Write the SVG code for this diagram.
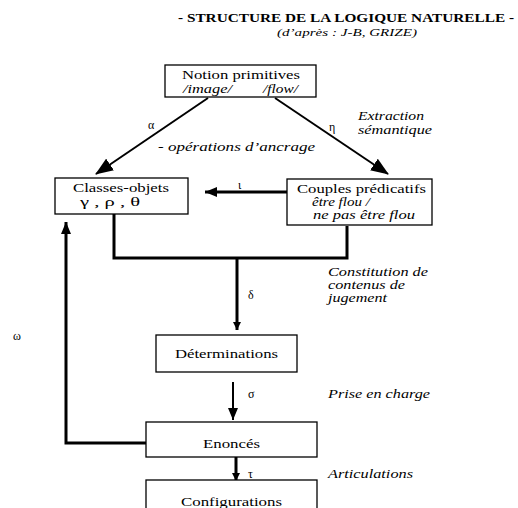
<svg xmlns="http://www.w3.org/2000/svg" width="518" height="508" viewBox="0 0 518 508">
<style>
.box{fill:#fff;stroke:#000;stroke-width:1.3}
.c{fill:none;stroke:#000;stroke-linecap:butt}
</style>
<defs>
<marker id="big" markerUnits="userSpaceOnUse" markerWidth="18" markerHeight="14" refX="17" refY="7" orient="auto"><path d="M0,0 L18,7 L0,14 Z" fill="#000"/></marker>
<marker id="mid" markerUnits="userSpaceOnUse" markerWidth="12" markerHeight="10" refX="12" refY="5" orient="auto"><path d="M0,0 L12,5 L0,10 Z" fill="#000"/></marker>
<marker id="sm" markerUnits="userSpaceOnUse" markerWidth="8" markerHeight="8" refX="8" refY="4" orient="auto"><path d="M0,0 L8,4 L0,8 Z" fill="#000"/></marker>
</defs>
<rect width="518" height="508" fill="#fff"/>
<g id="title" fill="#000">
<text x="178" y="22" font-family="Liberation Serif, DejaVu Serif, serif" font-weight="bold" font-size="11.5" textLength="336" lengthAdjust="spacingAndGlyphs">- STRUCTURE DE LA LOGIQUE NATURELLE -</text>
<text x="277" y="36" font-family="Liberation Serif, DejaVu Serif, serif" font-style="italic" font-size="11" textLength="140" lengthAdjust="spacingAndGlyphs">(d’après : J-B, GRIZE)</text>
</g>
<g id="connectors">
<line class="c" x1="208" y1="98" x2="96" y2="174" stroke-width="2" marker-end="url(#big)"/>
<line class="c" x1="275" y1="98" x2="388" y2="174" stroke-width="2" marker-end="url(#big)"/>
<line class="c" x1="287" y1="192" x2="205" y2="192" stroke-width="3" marker-end="url(#mid)"/>
<polyline class="c" points="114,214 114,258 347,258 347,226" stroke-width="3"/>
<line class="c" x1="237" y1="258" x2="237" y2="330" stroke-width="3" marker-end="url(#sm)"/>
<line class="c" x1="233" y1="382" x2="233" y2="420" stroke-width="2" marker-end="url(#mid)"/>
<line class="c" x1="236" y1="457" x2="236" y2="481" stroke-width="3" marker-end="url(#sm)"/>
<polyline class="c" points="146,443 66,443 66,222" stroke-width="3" marker-end="url(#mid)"/>
</g>
<g id="labels" fill="#000">
<text x="148" y="129" font-family="Liberation Serif, DejaVu Serif, serif" font-size="12">α</text>
<text x="329" y="131" font-family="Liberation Serif, DejaVu Serif, serif" font-size="12">η</text>
<text x="238" y="189" font-family="Liberation Serif, DejaVu Serif, serif" font-size="12">ι</text>
<text x="248" y="299" font-family="Liberation Serif, DejaVu Serif, serif" font-size="12">δ</text>
<text x="248" y="398" font-family="Liberation Serif, DejaVu Serif, serif" font-size="12">σ</text>
<text x="248" y="478" font-family="Liberation Serif, DejaVu Serif, serif" font-size="12">τ</text>
<text x="13" y="340" font-family="Liberation Serif, DejaVu Serif, serif" font-size="12">ω</text>
<text x="358" y="120" font-family="Liberation Serif, DejaVu Serif, serif" font-style="italic" font-size="12.5" textLength="66" lengthAdjust="spacingAndGlyphs">Extraction</text>
<text x="358" y="134" font-family="Liberation Serif, DejaVu Serif, serif" font-style="italic" font-size="12.5" textLength="74" lengthAdjust="spacingAndGlyphs">sémantique</text>
<text x="158" y="151" font-family="Liberation Serif, DejaVu Serif, serif" font-style="italic" font-size="12.5" textLength="157" lengthAdjust="spacingAndGlyphs">-  opérations d’ancrage</text>
<text x="328" y="276" font-family="Liberation Serif, DejaVu Serif, serif" font-style="italic" font-size="12.5" textLength="100" lengthAdjust="spacingAndGlyphs">Constitution de</text>
<text x="328" y="289" font-family="Liberation Serif, DejaVu Serif, serif" font-style="italic" font-size="12.5" textLength="77" lengthAdjust="spacingAndGlyphs">contenus de</text>
<text x="328" y="302" font-family="Liberation Serif, DejaVu Serif, serif" font-style="italic" font-size="12.5" textLength="59" lengthAdjust="spacingAndGlyphs">jugement</text>
<text x="328" y="398" font-family="Liberation Serif, DejaVu Serif, serif" font-style="italic" font-size="12.5" textLength="102" lengthAdjust="spacingAndGlyphs">Prise en charge</text>
<text x="328" y="478" font-family="Liberation Serif, DejaVu Serif, serif" font-style="italic" font-size="12.5" textLength="85" lengthAdjust="spacingAndGlyphs">Articulations</text>
</g>
<g id="notion" fill="#000">
<rect class="box" x="165" y="65" width="151" height="32"/>
<text x="182" y="79" font-family="Liberation Serif, DejaVu Serif, serif" font-size="13.5" textLength="118" lengthAdjust="spacingAndGlyphs">Notion primitives</text>
<text x="183" y="93" font-family="Liberation Serif, DejaVu Serif, serif" font-style="italic" font-size="13" textLength="49" lengthAdjust="spacingAndGlyphs">/image/</text>
<text x="263" y="93" font-family="Liberation Serif, DejaVu Serif, serif" font-style="italic" font-size="13" textLength="35" lengthAdjust="spacingAndGlyphs">/flow/</text>
</g>
<g id="classes" fill="#000">
<rect class="box" x="55" y="178" width="133" height="36"/>
<text x="73" y="192" font-family="Liberation Serif, DejaVu Serif, serif" font-size="13.5" textLength="96" lengthAdjust="spacingAndGlyphs">Classes-objets</text>
<text x="80" y="206" font-family="Liberation Serif, DejaVu Serif, serif" font-size="13.5" textLength="60" lengthAdjust="spacingAndGlyphs">γ , ρ , θ</text>
</g>
<g id="couples" fill="#000">
<rect class="box" x="287" y="179" width="145" height="46"/>
<text x="297" y="193" font-family="Liberation Serif, DejaVu Serif, serif" font-size="13.5" textLength="129" lengthAdjust="spacingAndGlyphs">Couples prédicatifs</text>
<text x="312" y="206" font-family="Liberation Serif, DejaVu Serif, serif" font-style="italic" font-size="12.5" textLength="58" lengthAdjust="spacingAndGlyphs">être flou /</text>
<text x="313" y="219" font-family="Liberation Serif, DejaVu Serif, serif" font-style="italic" font-size="12.5" textLength="102" lengthAdjust="spacingAndGlyphs">ne pas être flou</text>
</g>
<g id="determinations" fill="#000">
<rect class="box" x="156" y="335" width="141" height="37"/>
<text x="175" y="358" font-family="Liberation Serif, DejaVu Serif, serif" font-size="13.5" textLength="103" lengthAdjust="spacingAndGlyphs">Déterminations</text>
</g>
<g id="enonces" fill="#000">
<rect class="box" x="146" y="422" width="171" height="35"/>
<text x="203" y="448" font-family="Liberation Serif, DejaVu Serif, serif" font-size="13.5" textLength="57" lengthAdjust="spacingAndGlyphs">Enoncés</text>
</g>
<g id="configurations" fill="#000">
<rect class="box" x="146" y="480" width="171" height="40"/>
<text x="181" y="506" font-family="Liberation Serif, DejaVu Serif, serif" font-size="13.5" textLength="101" lengthAdjust="spacingAndGlyphs">Configurations</text>
</g>
</svg>
